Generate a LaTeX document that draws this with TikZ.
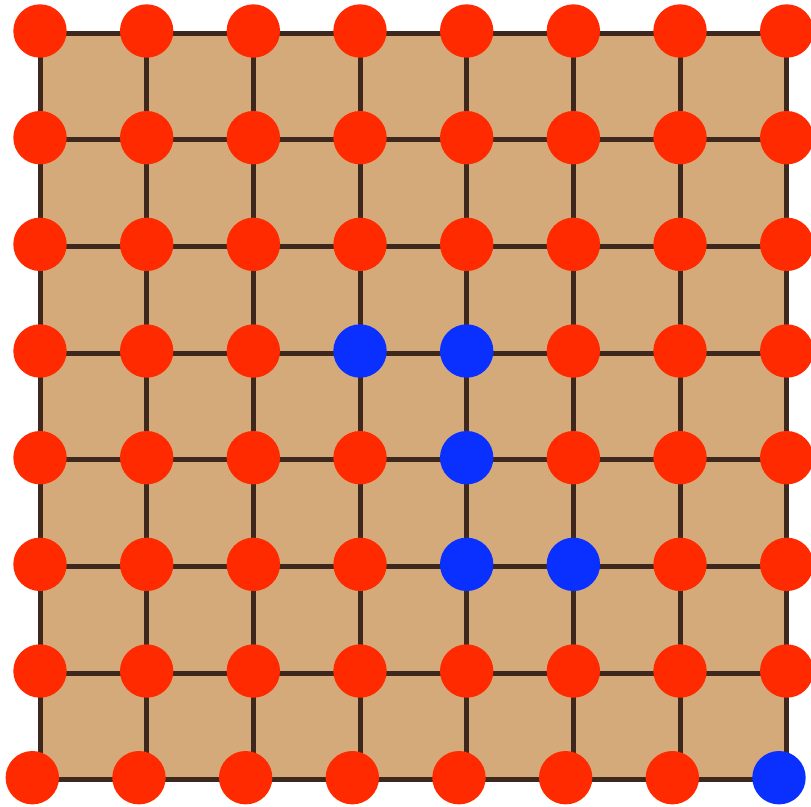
\documentclass[tikz,border=0pt]{standalone}
\usetikzlibrary{calc}
\definecolor{cboard}{HTML}{D5AA7B}
\definecolor{cline}{HTML}{3E271D}
\definecolor{cred}{HTML}{FF2A00}
\definecolor{cblue}{HTML}{0A30FF}
\tikzset{
  every picture/.style={x=1pt, y=-1pt},
  stone/.style={circle, fill=cred, minimum size=53.4pt, inner sep=0pt},
  gridline/.style={draw=cline, line width=5pt},
  % blue stones
  s-3-3/.style={fill=cblue}, s-4-3/.style={fill=cblue},
  s-4-4/.style={fill=cblue}, s-4-5/.style={fill=cblue},
  s-5-5/.style={fill=cblue}, s-7-7/.style={fill=cblue},
}

\begin{document}
\begin{tikzpicture}
  \useasboundingbox (0,0) rectangle (811,806);
  \fill[cboard] (40,33) rectangle (786.7,780);
  % grid points
  \foreach \i in {0,...,7}
    \foreach \j in {0,...,7}
      \coordinate (g-\i-\j) at ({40+106.67*\i},{33+106.67*\j});
  \foreach \k in {0,...,7} {
    \draw[gridline] (g-\k-0) -- (g-\k-7);
    \draw[gridline] (g-0-\k) -- (g-7-\k);
  }
  % stones, the bottom row sits a little to the left
  \foreach \j in {0,...,7}
    \foreach \i in {0,...,7} {
      \pgfmathsetmacro{\dx}{\j==7 ? -7.7 : 0}
      \node[stone, s-\i-\j/.try] (p-\i-\j) at ($(g-\i-\j)+(\dx,-2)$) {};
    }
\end{tikzpicture}
\end{document}
